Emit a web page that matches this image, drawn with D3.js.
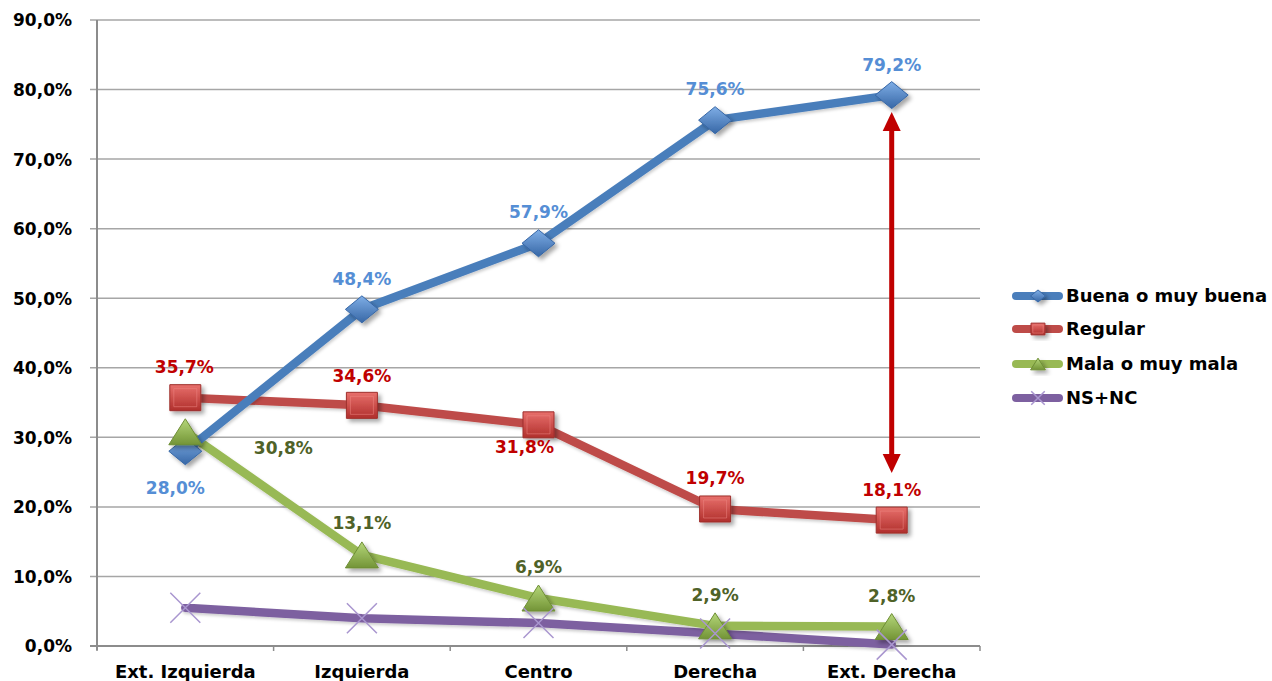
<!DOCTYPE html>
<html><head><meta charset="utf-8">
<script src="https://cdn.jsdelivr.net/npm/d3@7"></script>
<style>html,body{margin:0;padding:0;background:#fff;}svg{display:block;font-family:"DejaVu Sans",Verdana,sans-serif;font-weight:bold;}</style>
</head><body>
<svg id="c" width="1272" height="681"></svg>
<script>
// ---- data ----
const categories = ["Ext. Izquierda", "Izquierda", "Centro", "Derecha", "Ext. Derecha"];
const seriesNames = ["Buena o muy buena", "Regular", "Mala o muy mala", "NS+NC"];
const buena   = [28.0, 48.4, 57.9, 75.6, 79.2];
const regular = [35.7, 34.6, 31.8, 19.7, 18.1];
const mala    = [30.8, 13.1, 6.9, 2.9, 2.8];
const nsnc    = [5.5, 4.0, 3.3, 1.8, 0.2];
const yTicks  = [0, 10, 20, 30, 40, 50, 60, 70, 80, 90];

// ---- styles / layout (not data) ----
const lineColors  = ["#4A7EBB", "#BE4B48", "#98B954", "#7D60A0"];
const labelColors = ["#558ED5", "#C00000", "#4F6228", "#7D60A0"];
const markers = ["diamond", "square", "triangle", "x"];
// label offsets [dx, dy] relative to the point
const labelOffsets = [
  [[-10, 37], [0, -30], [0, -31], [0, -31], [0, -30]],
  [[-1, -31], [0, -29], [-14, 22], [0, -31], [0, -30]],
  [[98, 16], [0, -32], [0, -31], [0, -31], [0, -30]],
  null
];

(function () {
const svg = d3.select("#c");
const mLeft = 97, mRight = 980, mTop = 20, mBottom = 646;

const x = d3.scaleBand().domain(categories).range([mLeft, mRight]).padding(0);
const cx = c => x(c) + x.bandwidth() / 2;
const y = d3.scaleLinear().domain([0, 90]).range([mBottom, mTop]);

const defs = svg.append("defs");
const f = defs.append("filter").attr("id", "sh").attr("x", "-50%").attr("y", "-50%").attr("width", "200%").attr("height", "200%");
f.append("feDropShadow").attr("dx", 3).attr("dy", 3).attr("stdDeviation", 2).attr("flood-color", "#000").attr("flood-opacity", 0.35);
const fl = defs.append("filter").attr("id", "shl").attr("x", "-10%").attr("y", "-10%").attr("width", "120%").attr("height", "130%");
fl.append("feDropShadow").attr("dx", 1).attr("dy", 2).attr("stdDeviation", 1.5).attr("flood-color", "#000").attr("flood-opacity", 0.2);

function grad(id, c1, c2) {
  const g = defs.append("linearGradient").attr("id", id).attr("x1", 0).attr("y1", 0).attr("x2", 0).attr("y2", 1);
  g.append("stop").attr("offset", "0%").attr("stop-color", c1);
  g.append("stop").attr("offset", "100%").attr("stop-color", c2);
}
grad("gB", "#7FAEE6", "#3767A6");
grad("gR", "#E8706C", "#B02F2C");
grad("gG", "#B5D77A", "#739436");
const fills = ["url(#gB)", "url(#gR)", "url(#gG)", "none"];
const strokes = ["#3767A6", "#9E2F2C", "#6E8E35", "#A996CF"];

// gridlines
svg.append("g").selectAll("line").data(yTicks).join("line")
  .attr("x1", mLeft - 7).attr("x2", mRight).attr("y1", d => y(d)).attr("y2", d => y(d))
  .attr("stroke", "#A6A6A6").attr("stroke-width", 1.5);

// y axis
const yAxis = d3.axisLeft(y).tickValues(yTicks).tickSize(0).tickPadding(0)
  .tickFormat(d => d3.format(".1f")(d).replace(".", ",") + "%");
const gy = svg.append("g").attr("transform", `translate(${mLeft},0)`).call(yAxis);
gy.select(".domain").remove();
gy.selectAll("text").attr("x", -25).attr("font-size", 17).attr("font-weight", "bold")
  .attr("font-family", "DejaVu Sans").attr("fill", "#000").attr("dy", "0.35em");
svg.append("line").attr("x1", mLeft).attr("x2", mLeft).attr("y1", mTop).attr("y2", mBottom + 4)
  .attr("stroke", "#8C8C8C").attr("stroke-width", 2);

// x axis
svg.append("line").attr("x1", mLeft - 7).attr("x2", mRight).attr("y1", mBottom).attr("y2", mBottom)
  .attr("stroke", "#8C8C8C").attr("stroke-width", 2);
const bounds = categories.map(c => x(c)).concat([mRight]);
svg.append("g").selectAll("line").data(bounds).join("line")
  .attr("x1", d => d).attr("x2", d => d).attr("y1", mBottom).attr("y2", mBottom + 5)
  .attr("stroke", "#8C8C8C").attr("stroke-width", 1.5);
const xAxis = d3.axisBottom(x).tickSize(0).tickPadding(0);
const gx = svg.append("g").attr("transform", `translate(0,${mBottom})`).call(xAxis);
gx.select(".domain").remove();
gx.selectAll("text").attr("y", 32).attr("dy", 0).attr("font-size", 18).attr("font-weight", "bold")
  .attr("font-family", "DejaVu Sans").attr("fill", "#000");

// series
const allSeries = [buena, regular, mala, nsnc];
const line = d3.line().x((d, i) => cx(categories[i])).y(d => y(d));

const lineOrder = [3, 2, 1, 0];
lineOrder.forEach(s => {
  svg.append("path").datum(allSeries[s]).attr("d", line)
    .attr("fill", "none").attr("stroke", lineColors[s]).attr("stroke-width", 8.5)
    .attr("stroke-linejoin", "round").attr("stroke-linecap", "round").attr("filter", "url(#shl)");
});

function markerPath(type, w, h) {
  const hw = w / 2, hh = h / 2;
  if (type === "diamond") return `M0,${-hh}L${hw},0L0,${hh}L${-hw},0Z`;
  if (type === "square") return `M${-hw},${-hh}H${hw}V${hh}H${-hw}Z`;
  if (type === "triangle") return `M0,${-hh}L${hw},${hh}H${-hw}Z`;
  return `M${-hw},${-hh}L${hw},${hh}M${hw},${-hh}L${-hw},${hh}`;
}
const msize = [[33, 27], [31, 26], [33, 26], [30, 30]];

function drawMarker(g, s, px, py, scale) {
  const [w, h] = msize[s];
  const p = g.append("path").attr("transform", `translate(${px},${py})`)
    .attr("d", markerPath(markers[s], w * scale, h * scale));
  if (markers[s] === "x") {
    p.attr("fill", "none").attr("stroke", strokes[s]).attr("stroke-width", 1.5);
  } else {
    p.attr("fill", fills[s]).attr("stroke", strokes[s]).attr("stroke-width", 1).attr("filter", "url(#sh)");
    if (markers[s] === "square") {
      g.append("path").attr("transform", `translate(${px},${py})`)
        .attr("d", markerPath("square", (w - 8) * scale, (h - 8) * scale))
        .attr("fill", "none").attr("stroke", "#F08A86").attr("stroke-opacity", 0.5).attr("stroke-width", 1);
    }
  }
}

const mg = svg.append("g");
[0, 1, 2, 3].forEach(s => {
  allSeries[s].forEach((v, i) => drawMarker(mg, s, cx(categories[i]), y(v), 1));
});

// data labels
const lg = svg.append("g");
[0, 1, 2].forEach(s => {
  allSeries[s].forEach((v, i) => {
    const [dx, dy] = labelOffsets[s][i];
    lg.append("text").attr("x", cx(categories[i]) + dx).attr("y", y(v) + dy)
      .attr("dy", "0.35em").attr("text-anchor", "middle").attr("font-size", 17)
      .attr("fill", labelColors[s]).text(d3.format(".1f")(v).replace(".", ",") + "%");
  });
});

// annotation arrow between Buena and Regular at last category
const ax = cx(categories[4]);
const yA = y(buena[4]) + 17, yB = y(regular[4]) - 47;
const arrowCol = "#C00000";
svg.append("line").attr("x1", ax).attr("x2", ax).attr("y1", yA + 16).attr("y2", yB - 16)
  .attr("stroke", arrowCol).attr("stroke-width", 5);
svg.append("path").attr("d", `M${ax},${yA}L${ax + 9},${yA + 19}L${ax - 9},${yA + 19}Z`).attr("fill", arrowCol);
svg.append("path").attr("d", `M${ax},${yB}L${ax + 9},${yB - 19}L${ax - 9},${yB - 19}Z`).attr("fill", arrowCol);

// legend
const legY = [296, 329, 364, 398];
const leg = svg.append("g");
seriesNames.forEach((n, s) => {
  leg.append("line").attr("x1", 1016).attr("x2", 1059).attr("y1", legY[s]).attr("y2", legY[s])
    .attr("stroke", lineColors[s]).attr("stroke-width", 8).attr("stroke-linecap", "round");
  drawMarker(leg, s, 1038, legY[s], 0.45);
  leg.append("text").attr("x", 1066).attr("y", legY[s]).attr("dy", "0.35em")
    .attr("font-size", 18).attr("fill", "#000").text(n);
});
})();
</script>
</body></html>
